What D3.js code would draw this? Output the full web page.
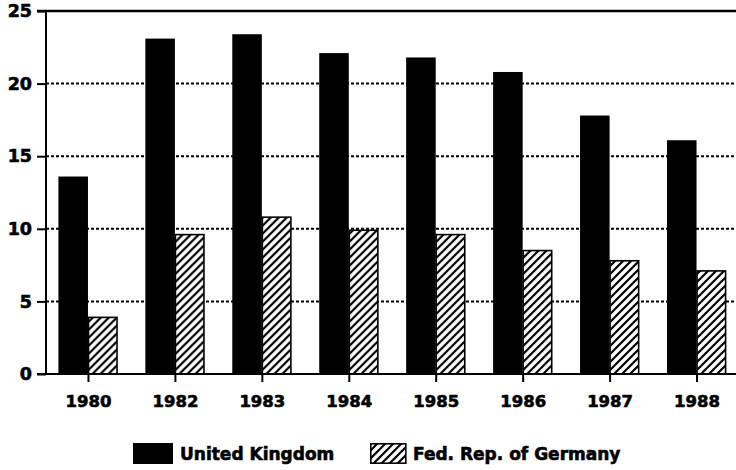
<!DOCTYPE html>
<html><head><meta charset="utf-8">
<script src="https://cdn.jsdelivr.net/npm/d3@7"></script>
<style>
html,body{margin:0;padding:0;background:#fff;}
text{font-family:"DejaVu Sans",sans-serif;font-weight:bold;fill:#000;stroke:#000;stroke-width:0.6px;}
</style></head>
<body><svg id="c" width="736" height="470"></svg>
<script>
const years = ["1980","1982","1983","1984","1985","1986","1987","1988"];
const seriesNames = ["United Kingdom","Fed. Rep. of Germany"];
const ukValues = [13.6,23.1,23.4,22.1,21.8,20.8,17.8,16.1];
const deValues = [3.9,9.6,10.8,9.9,9.6,8.5,7.8,7.1];
const yTicks = [0,5,10,15,20,25];

const svg = d3.select("#c");
const defs = svg.append("defs");
const pat = defs.append("pattern").attr("id","hatch").attr("patternUnits","userSpaceOnUse")
  .attr("width",8).attr("height",8);
pat.append("rect").attr("width",8).attr("height",8).attr("fill","#fff");
pat.append("path").attr("d","M-2,2 L2,-2 M0,8 L8,0 M6,10 L10,6")
  .attr("stroke","#000").attr("stroke-width",2.2);

const pLeft = 46, pRight = 736, pTop = 11, pBottom = 374;
const y = d3.scaleLinear().domain([0,25]).range([pBottom, pTop]);
const x0 = d3.scaleBand().domain(years).range([44.5, 740]).paddingInner(0.32).paddingOuter(0.16);
const x1 = d3.scaleBand().domain(seriesNames).range([0, x0.bandwidth()]);

// gridlines
svg.append("g").selectAll("line").data(yTicks.filter(d=>d>0 && d<25)).join("line")
  .attr("x1",pLeft).attr("x2",pRight).attr("y1",d=>y(d)).attr("y2",d=>y(d))
  .attr("stroke","#000").attr("stroke-width",2).attr("stroke-dasharray","3,2");

// bars
const data = years.map((yr,i)=>({yr, vals:[ukValues[i], deValues[i]]}));
const g = svg.append("g").selectAll("g").data(data).join("g")
  .attr("transform",d=>`translate(${x0(d.yr)},0)`);
g.selectAll("rect").data(d=>d.vals.map((v,j)=>({v, s:seriesNames[j]}))).join("rect")
  .attr("x",d=>x1(d.s)+ (d.s===seriesNames[1]?0.5:0))
  .attr("width",d=>x1.bandwidth()-(d.s===seriesNames[1]?1:0))
  .attr("y",d=>y(d.v)).attr("height",d=>y(0)-y(d.v))
  .attr("fill",d=>d.s===seriesNames[0]?"#000":"url(#hatch)")
  .attr("stroke","#000").attr("stroke-width",d=>d.s===seriesNames[0]?0:1.6);

// y axis
const yAxis = d3.axisLeft(y).tickValues(yTicks).tickSize(9).tickPadding(5).tickFormat(d3.format("d"));
const ya = svg.append("g").attr("transform",`translate(${pLeft},0)`).call(yAxis);
ya.select(".domain").remove();
ya.selectAll(".tick line").attr("stroke","#000").attr("stroke-width",2);
ya.selectAll(".tick text").attr("font-size",17.5).attr("font-family","DejaVu Sans").attr("font-weight","bold");
svg.append("line").attr("x1",pLeft).attr("x2",pLeft).attr("y1",pTop).attr("y2",pBottom)
  .attr("stroke","#000").attr("stroke-width",2);
// top frame
svg.append("line").attr("x1",37).attr("x2",pRight).attr("y1",pTop).attr("y2",pTop)
  .attr("stroke","#000").attr("stroke-width",2.5);

// x axis
const xc = d3.scaleBand().domain(years).range([44.5,740]);
const xAxis = d3.axisBottom(d3.scalePoint().domain(years).range([xc("1980")+xc.bandwidth()/2, xc("1988")+xc.bandwidth()/2]))
  .tickSize(8).tickPadding(13);
const xa = svg.append("g").attr("transform",`translate(0,${pBottom})`).call(xAxis);
xa.select(".domain").remove();
xa.selectAll(".tick line").attr("stroke","#000").attr("stroke-width",2);
xa.selectAll(".tick text").attr("font-size",16.5).attr("font-family","DejaVu Sans").attr("font-weight","bold");
svg.append("line").attr("x1",37).attr("x2",pRight).attr("y1",pBottom).attr("y2",pBottom)
  .attr("stroke","#000").attr("stroke-width",2);

// legend
const legX = [133, 370];
const leg = svg.append("g").selectAll("g").data(seriesNames).join("g")
  .attr("transform",(d,i)=>`translate(${legX[i]},443)`);
leg.append("rect").attr("x",(d,i)=>i?0.8:0).attr("y",(d,i)=>i?0.8:0)
  .attr("width",(d,i)=>i?35:40).attr("height",(d,i)=>i?19.4:21)
  .attr("fill",(d,i)=>i?"url(#hatch)":"#000").attr("stroke","#000").attr("stroke-width",(d,i)=>i?1.6:0);
leg.append("text").attr("x",(d,i)=>i?43:47).attr("y",17).attr("font-size",17).text(d=>d);
</script></body></html>
